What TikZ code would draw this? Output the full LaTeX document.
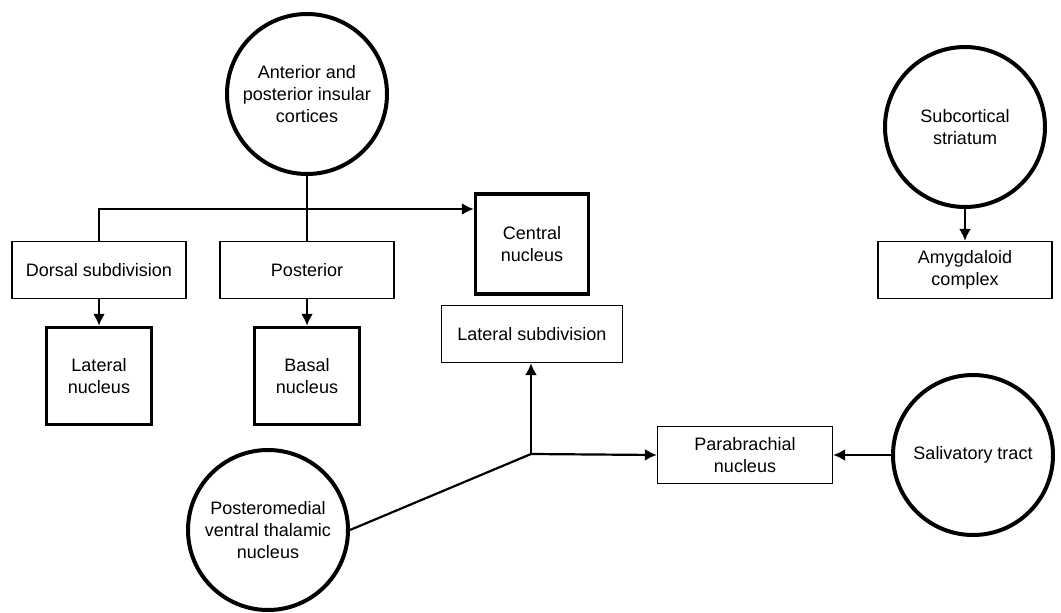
\documentclass[tikz,border=0pt]{standalone}
\usepackage{fontspec}
\setmainfont{Liberation Sans}
\usetikzlibrary{
    shapes
  , arrows.meta
  , calc
  , positioning
}

\begin{document}
\begin{tikzpicture}[x=1pt, y=-1pt,
    >={Latex[length=12pt,width=12pt]},
    region/.style={draw, circle, line width=4pt, minimum size=160pt, align=center, inner sep=2pt},
    subdiv/.style={draw, rectangle, line width=1.3pt, minimum height=57pt, align=center},
    nucleus/.style={draw, rectangle, line width=3.5pt, minimum height=97pt, minimum width=105pt, align=center},
    link/.style={line width=2.2pt}]
  \fontsize{18}{22}\selectfont
  \useasboundingbox (0,0) rectangle (1061,613);
  % Cortical and subcortical inputs
  \node[region] (insula) at (307,94) {Anterior and\\posterior insular\\cortices};
  \node[region] (striatum) at (965,127) {Subcortical\\striatum};
  \node[region] (thalamus) at (268,530) {Posteromedial\\ventral thalamic\\nucleus};
  \node[region] (saliv) at (973,455) {Salivatory tract};
  % Subdivisions
  \node[subdiv, minimum width=174pt] (dorsal) at (99,270) {Dorsal subdivision};
  \node[subdiv, minimum width=174pt] (posterior) at (307,270) {Posterior};
  \node[subdiv, minimum width=174pt] (amyg) at (965,270) {Amygdaloid\\complex};
  \node[subdiv, minimum width=181pt] (latsub) at (532,334) {Lateral subdivision};
  \node[subdiv, minimum width=175pt] (parab) at (745,455) {Parabrachial\\nucleus};
  % Nuclei
  \node[nucleus, minimum width=113pt, minimum height=100pt] (central) at (532,244) {Central\\nucleus};
  \node[nucleus] (latnuc) at (99,376) {Lateral\\nucleus};
  \node[nucleus] (basal) at (307,376) {Basal\\nucleus};
  % Junctions
  \coordinate (split) at (307,209);
  \coordinate (relay) at (531,454);
  % Insular projections
  \draw[link] (insula.south) -- (posterior.north);
  \draw[link,->] (dorsal.north) |- (central.west |- split);
  \draw[link,->] (dorsal.south) -- (latnuc.north);
  \draw[link,->] (posterior.south) -- (basal.north);
  % Thalamic projections
  \draw[link] (thalamus.east) -- (relay);
  \draw[link,->] (relay) -- (relay |- latsub.south);
  \draw[link,->] (relay) -- (parab.west);
  \draw[link,->] (saliv.west) -- (parab.east);
  % Striatum
  \draw[link,->] (striatum.south) -- (amyg.north);
\end{tikzpicture}
\end{document}
